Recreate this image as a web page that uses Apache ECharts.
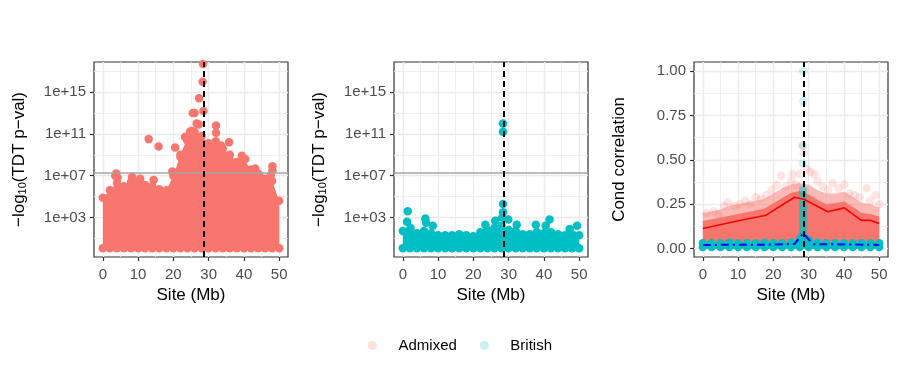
<!DOCTYPE html>
<html>
<head>
<meta charset="UTF-8">
<script src="https://cdn.jsdelivr.net/npm/echarts@6/dist/echarts.min.js"></script>
</head>
<body style="margin:0;background:#fff;">
<div id="main" style="width:900px;height:387px"></div>
<script>
// ---- data ----
// TDT panels: y values are log10 of the plotted quantity
var tdtSites = [0,2,4,6,8,10,12,14,16,18,20,22,24,26,28,30,32,34,36,38,40,42,44,46,48,50];
var adxTdtTop = [4.9,5.6,6.3,6.0,6.4,6.4,6.1,6.0,5.7,5.6,7.0,9.0,10.6,11.2,10.8,10.1,10.3,9.6,9.0,8.3,8.5,7.6,7.2,6.7,6.5,4.6];
var briTdtTop = [1.7,1.8,1.5,1.7,1.5,1.3,1.3,1.3,1.4,1.3,1.2,1.6,1.8,2.0,2.2,1.8,1.7,1.4,1.4,1.6,1.5,1.6,1.4,1.3,1.4,1.3];
var tdtFloor = 0.05;
var adxTdtPeaks = [[3.5,7.0],[3.8,7.2],[4.2,6.8],[8.3,6.9],[10.6,6.7],[14.4,6.6],[13.0,10.5],[15.8,9.8],
  [19.7,7.4],[20.5,9.7],[22.0,8.8],[23.3,10.7],[23.9,10.4],[24.7,11.2],[25.2,11.3],[25.5,13.0],[26.0,13.0],
  [26.6,12.0],[27.2,11.9],[27.3,14.4],[28.3,16.0],[28.4,17.7],[28.5,13.2],[32.1,11.8],[32.1,11.1],[33.5,9.9],
  [35.8,10.2],[39.4,8.9],[40.4,8.6],[43.2,7.7],[43.8,7.0],[44.3,7.1],[47.6,7.05],[48.1,7.9],[48.1,7.5]];
var briTdtPeaks = [[1.4,3.6],[1.2,2.6],[2.2,2.0],[6.4,2.9],[6.6,2.5],[8.5,2.2],[23.4,2.3],[26.2,2.7],
  [28.4,4.3],[28.4,3.5],[28.2,3.0],[29.9,2.8],[28.4,12.0],[28.4,11.2],[32.3,2.3],[37.7,2.3],[40.5,2.2],
  [41.6,2.8],[47.3,1.9],[49.4,2.2]];
var sigLine = 7.3;
var causalSite = 28.5;

// correlation panel
var corSites = [0,2.5,5,7.5,10,12.5,15,17.5,20,22.5,25,27.5,30,32.5,35,37.5,40,42.5,45,47.5,50];
var adxCorDense = [0.155,0.165,0.175,0.185,0.195,0.205,0.215,0.225,0.255,0.285,0.315,0.325,0.305,0.275,0.25,0.255,0.265,0.235,0.2,0.195,0.18];
var adxCorHalo = [0.20,0.21,0.22,0.24,0.25,0.26,0.27,0.28,0.31,0.34,0.36,0.37,0.36,0.33,0.31,0.31,0.32,0.29,0.26,0.25,0.23];
var adxCorSpread = [[1,0.2],[3,0.21],[4.5,0.19],[6,0.24],[7.1,0.26],[9,0.24],[10.5,0.25],[12,0.27],[13.5,0.25],
  [15,0.29],[16.5,0.28],[18,0.3],[19.5,0.33],[21,0.36],[22.2,0.41],[23.5,0.35],[25,0.38],[25.5,0.42],[26.5,0.36],
  [27.5,0.42],[28.3,0.58],[28.6,0.54],[29.5,0.45],[30.5,0.43],[31.6,0.42],[32.5,0.38],[34,0.35],[35.5,0.33],
  [36.8,0.37],[38.5,0.34],[40.1,0.36],[41.5,0.31],[43,0.3],[44.5,0.29],[46.4,0.34],[47.5,0.27],[49,0.3],[50,0.25]];
var briCorTop = [0.03,0.03,0.03,0.032,0.03,0.03,0.03,0.032,0.03,0.03,0.032,0.05,0.045,0.032,0.03,0.03,0.03,0.03,0.03,0.03,0.03];
var briCorFloor = 0.008;
var briCorSpike = [[28.4,0.06],[28.4,0.08],[28.4,0.1],[28.4,0.12],[28.4,0.14],[28.4,0.16],[28.4,0.18],[28.4,0.2],
  [28.4,0.22],[28.4,0.24],[28.4,0.27],[28.4,0.3],[28.4,0.33],[28.0,0.07],[28.8,0.06],[29.2,0.05]];
var briCorSpikeHigh = [[28.4,0.48],[28.4,0.58],[28.5,0.83],[28.5,1.0]];
var adxFit = [[0,0.113],[10.4,0.158],[17.9,0.188],[26,0.289],[28.8,0.276],[35.4,0.207],[40.1,0.229],[44.8,0.16],[47.6,0.158],[50,0.141]];
var briFit = [[0,0.02],[10,0.021],[20,0.022],[26,0.025],[27.8,0.07],[28.5,0.085],[30.7,0.036],[31.5,0.024],[40,0.023],[50,0.02]];

// ticks
var xTicks = [0,10,20,30,40,50];
var xMinor = [5,15,25,35,45];
var tdtTicks = [3,7,11,15];
var tdtMinor = [1,5,9,13,17];
var corTicks = [0,0.25,0.5,0.75,1];
var corMinor = [0.125,0.375,0.625,0.875];

// ---- chart ----
var FONT = "'Liberation Sans', Arial, sans-serif";
var ADX = '#F8766D', BRI = '#00BFC4';
var GRIDC = '#EBEBEB';

function pairs(xs, ys) { return xs.map(function (x, i) { return [x, ys[i]]; }); }
function flat(xs, v) { return xs.map(function (x) { return [x, v]; }); }

var lefts = [94, 394, 694];
var grids = lefts.map(function (l) {
    return {left: l, top: 62, width: 194, height: 195, show: true,
        borderColor: '#333', borderWidth: 1.2, backgroundColor: '#fff'};
});

var xAxes = [], yAxes = [];
for (var g = 0; g < 3; g++) {
    xAxes.push({
        type: 'value', gridIndex: g, min: -2.5, max: 52.5,
        name: 'Site (Mb)', nameLocation: 'middle', nameGap: 30,
        nameTextStyle: {color: '#000', fontSize: 17, fontFamily: FONT},
        axisLine: {show: false, onZero: false},
        axisTick: {show: true, length: 4, customValues: xTicks, lineStyle: {color: '#333', width: 1.2}},
        axisLabel: {customValues: xTicks, margin: 10, color: '#4D4D4D', fontSize: 15, fontFamily: FONT},
        splitLine: {show: true, lineStyle: {color: GRIDC, width: 1.4}}
    });
    xAxes.push({
        type: 'value', gridIndex: g, min: -2.5, max: 52.5,
        axisLine: {show: false, onZero: false},
        axisTick: {show: false, customValues: xMinor},
        axisLabel: {show: false, customValues: xMinor},
        splitLine: {show: true, lineStyle: {color: GRIDC, width: 0.8}}
    });
    var isCor = g === 2;
    var ymin = isCor ? -0.048 : -0.78, ymax = isCor ? 1.052 : 17.88;
    yAxes.push({
        type: 'value', gridIndex: g, min: ymin, max: ymax,
        name: isCor ? 'Cond correlation' : '\u2212log{s|10}(TDT p\u2212val)',
        nameLocation: 'middle', nameGap: 66,
        nameTextStyle: {color: '#000', fontSize: 17, fontFamily: FONT,
            rich: {s: {fontSize: 11, fontFamily: FONT, color: '#000', padding: [7, 0, 0, 0]}}},
        axisLine: {show: false, onZero: false},
        axisTick: {show: true, length: 4, customValues: isCor ? corTicks : tdtTicks, lineStyle: {color: '#333', width: 1.2}},
        axisLabel: {customValues: isCor ? corTicks : tdtTicks, margin: 8, color: '#4D4D4D', fontSize: 15, fontFamily: FONT,
            formatter: isCor ? function (v) { return v.toFixed(2); }
                             : function (v) { return '1e+' + (v < 10 ? '0' + v : v); }},
        splitLine: {show: true, lineStyle: {color: GRIDC, width: 1.4}}
    });
    yAxes.push({
        type: 'value', gridIndex: g, min: ymin, max: ymax,
        axisLine: {show: false, onZero: false},
        axisTick: {show: false, customValues: isCor ? corMinor : tdtMinor},
        axisLabel: {show: false, customValues: isCor ? corMinor : tdtMinor},
        splitLine: {show: true, lineStyle: {color: GRIDC, width: 0.8}}
    });
}

function area(ax, data, color, opacity, z) {
    return {type: 'line', xAxisIndex: ax, yAxisIndex: ax, data: data, symbol: 'none', silent: true, z: z || 2,
        lineStyle: {width: 0}, areaStyle: {color: color, opacity: opacity}};
}
function dots(ax, name, data, color, opacity, z) {
    return {type: 'scatter', name: name, xAxisIndex: ax, yAxisIndex: ax, data: data, symbolSize: 8.5,
        silent: true, z: z || 3, itemStyle: {color: color, opacity: opacity}};
}
function marks(ax, withSig) {
    var d = [{xAxis: causalSite, lineStyle: {color: '#000', width: 2, type: [6, 4]}}];
    if (withSig) d.unshift({yAxis: sigLine, lineStyle: {color: '#A6A6A6', width: 1.5, type: 'solid'}});
    return {type: 'scatter', xAxisIndex: ax, yAxisIndex: ax, data: [], z: 10, silent: true,
        markLine: {silent: true, symbol: 'none', label: {show: false}, animation: false, data: d}};
}

var series = [
    // panel 1: admixed TDT
    area(0, pairs(tdtSites, adxTdtTop), ADX, 1),
    dots(0, 'Admixed', pairs(tdtSites, adxTdtTop), ADX, 1),
    dots(0, 'Admixed', flat(tdtSites, tdtFloor), ADX, 1),
    dots(0, 'Admixed', adxTdtPeaks, ADX, 1),
    marks(0, true),
    // panel 2: british TDT
    area(2, pairs(tdtSites, briTdtTop), BRI, 1),
    dots(2, 'British', pairs(tdtSites, briTdtTop), BRI, 1),
    dots(2, 'British', flat(tdtSites, tdtFloor), BRI, 1),
    dots(2, 'British', briTdtPeaks, BRI, 1),
    marks(2, true),
    // panel 3: conditional correlation
    area(4, pairs(corSites, adxCorHalo), ADX, 0.5),
    area(4, pairs(corSites, adxCorDense), ADX, 1),
    dots(4, 'Admixed', adxCorSpread, ADX, 0.2),
    area(4, pairs(corSites, briCorTop), BRI, 1, 4),
    dots(4, 'British', pairs(corSites, briCorTop), BRI, 1, 4),
    dots(4, 'British', flat(corSites, briCorFloor), BRI, 1, 4),
    dots(4, 'British', briCorSpike, BRI, 0.5, 4),
    dots(4, 'British', briCorSpikeHigh, BRI, 0.2, 4),
    {type: 'line', xAxisIndex: 4, yAxisIndex: 4, data: adxFit, symbol: 'none', silent: true, z: 6,
        lineStyle: {color: '#FF0000', width: 1.6}},
    {type: 'line', xAxisIndex: 4, yAxisIndex: 4, data: briFit, symbol: 'none', silent: true, z: 6,
        lineStyle: {color: '#0000FF', width: 2, type: [8, 4, 2, 4]}},
    marks(4, false)
];

var myChart = echarts.init(document.getElementById('main'));
myChart.setOption({
    animation: false,
    backgroundColor: '#fff',
    textStyle: {fontFamily: FONT},
    grid: grids,
    xAxis: xAxes,
    yAxis: yAxes,
    legend: {
        left: 363, top: 333, icon: 'circle', itemWidth: 42, itemHeight: 9, itemGap: 23,
        selectedMode: false,
        textStyle: {color: '#000', fontSize: 15, fontFamily: FONT},
        data: [
            {name: 'Admixed', itemStyle: {color: 'rgba(248,118,109,0.22)', opacity: 1}},
            {name: 'British', itemStyle: {color: 'rgba(0,191,196,0.22)', opacity: 1}}
        ]
    },
    series: series
});
</script>
</body>
</html>
